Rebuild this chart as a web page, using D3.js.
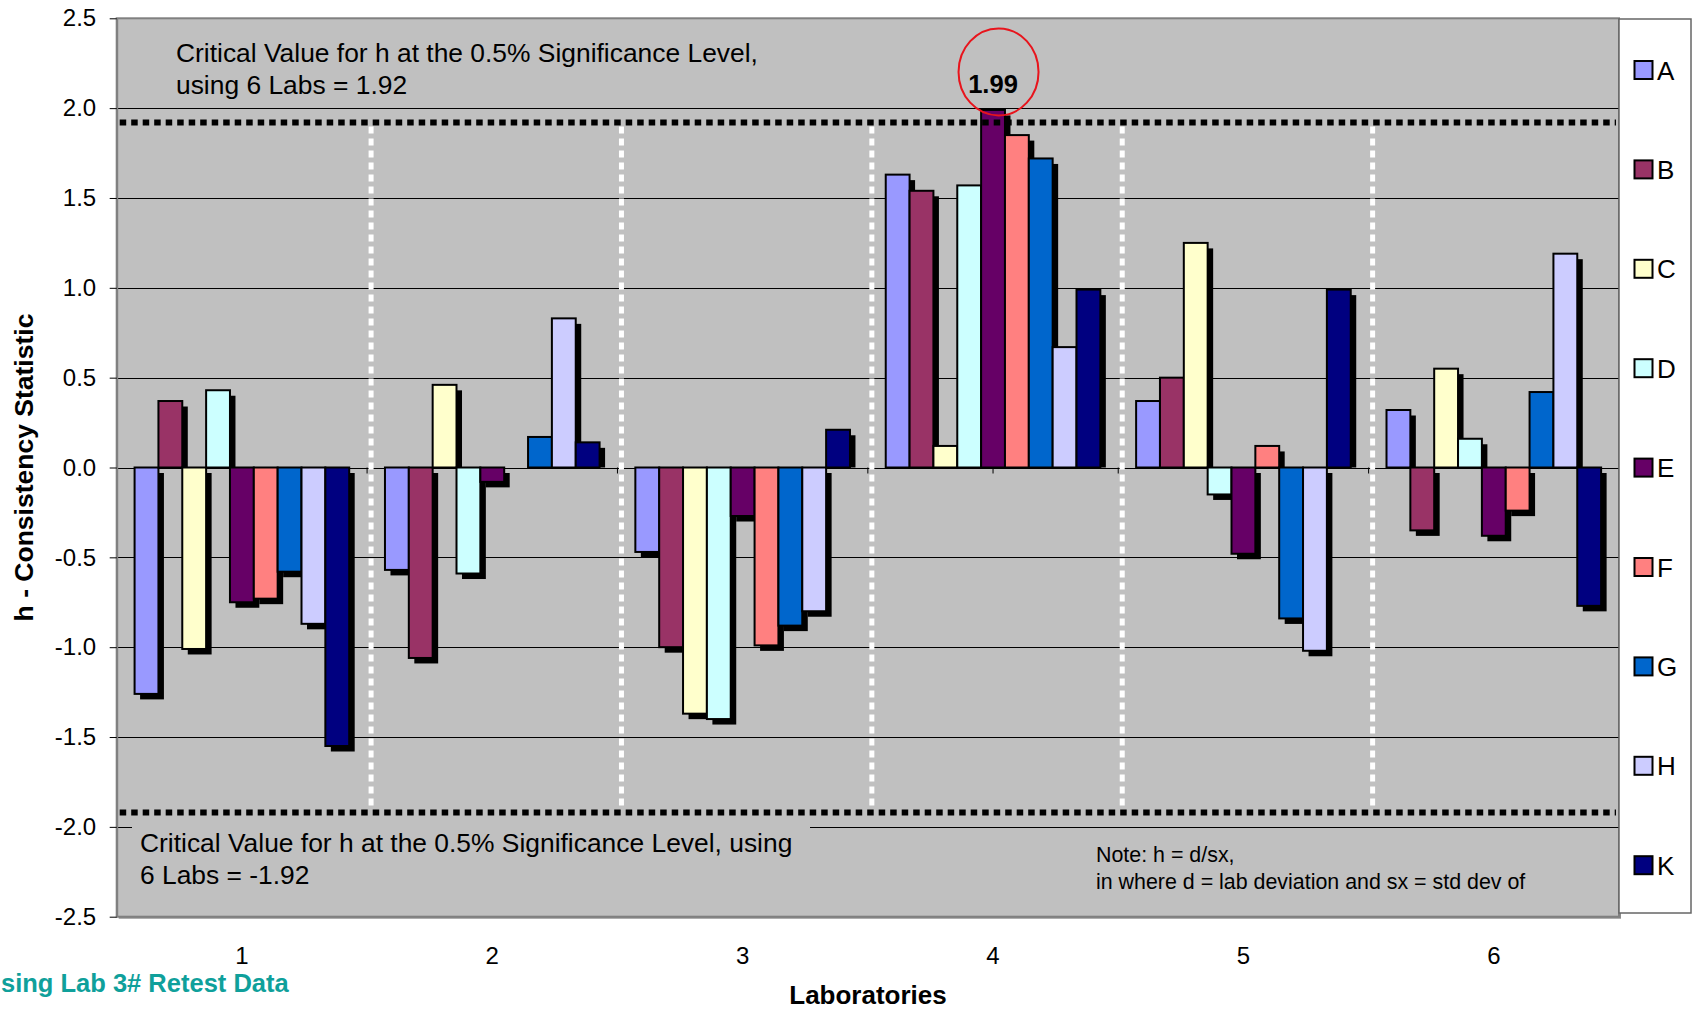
<!DOCTYPE html>
<html>
<head>
<meta charset="utf-8">
<script src="https://cdn.jsdelivr.net/npm/d3@7"></script>
<style>
  html, body { margin: 0; padding: 0; background: #ffffff; overflow: hidden; }
  svg { display: block; font-family: "Liberation Sans", Arial, sans-serif; }
</style>
</head>
<body>
<svg id="chart" width="1696" height="1011"></svg>
<script>
// ---- data -------------------------------------------------------------
const labs = ["1", "2", "3", "4", "5", "6"];
const seriesNames = ["A", "B", "C", "D", "E", "F", "G", "H", "K"];

// h statistic per lab (1..6) for each material
const hA = [-1.26, -0.57, -0.47, 1.63, 0.37, 0.32];
const hB = [0.37, -1.06, -1.00, 1.54, 0.50, -0.35];
const hC = [-1.01, 0.46, -1.37, 0.12, 1.25, 0.55];
const hD = [0.43, -0.59, -1.40, 1.57, -0.15, 0.16];
const hE = [-0.75, -0.08, -0.27, 1.99, -0.48, -0.38];
const hF = [-0.73, 0.00, -0.99, 1.85, 0.12, -0.24];
const hG = [-0.58, 0.17, -0.88, 1.72, -0.84, 0.42];
const hH = [-0.87, 0.83, -0.80, 0.67, -1.02, 1.19];
const hK = [-1.55, 0.14, 0.21, 0.99, 0.99, -0.77];
const seriesValues = [hA, hB, hC, hD, hE, hF, hG, hH, hK];

const yTicks = [-2.5, -2.0, -1.5, -1.0, -0.5, 0.0, 0.5, 1.0, 1.5, 2.0, 2.5];
const criticalUpper = 1.92;
const criticalLower = -1.92;
const highlightSeries = "E";
const highlightLab = "4";

const upperNote = ["Critical Value for h at the 0.5% Significance Level,", "using 6 Labs = 1.92"];
const lowerNote = ["Critical Value for h at the 0.5% Significance Level, using", "6 Labs = -1.92"];
const formulaNote = ["Note: h = d/sx,", "in where d = lab deviation and sx = std dev of"];
const subtitle = "sing Lab 3# Retest Data";

// ---- styles -----------------------------------------------------------
const seriesColors = ["#9999FF", "#993366", "#FFFFCC", "#CCFFFF", "#660066",
                      "#FF8080", "#0066CC", "#CCCCFF", "#000080"];
const plotBg = "#c0c0c0";

// ---- layout -----------------------------------------------------------
const plot = { left: 116.7, right: 1619, top: 18.3, bottom: 916.7 };
const svg = d3.select("#chart");

const x = d3.scaleBand().domain(labs).range([plot.left, plot.right]).padding(0);
const xs = d3.scaleBand().domain(seriesNames).range([0, x.bandwidth()])
  .paddingInner(0).paddingOuter(0.75);
const y = d3.scaleLinear().domain([-2.5, 2.5]).range([plot.bottom, plot.top]);
const color = d3.scaleOrdinal().domain(seriesNames).range(seriesColors);

// plot area with a soft drop shadow
svg.append("rect")
  .attr("x", plot.left + 2).attr("y", plot.top + 2)
  .attr("width", plot.right - plot.left).attr("height", plot.bottom - plot.top)
  .attr("fill", "#8c8c8c");
svg.append("rect")
  .attr("x", plot.left).attr("y", plot.top)
  .attr("width", plot.right - plot.left).attr("height", plot.bottom - plot.top)
  .attr("fill", plotBg).attr("stroke", "#808080").attr("stroke-width", 2);

// horizontal gridlines
svg.append("g").selectAll("line")
  .data(yTicks.filter(t => t > -2.5 && t < 2.5))
  .join("line")
  .attr("x1", plot.left).attr("x2", plot.right)
  .attr("y1", d => Math.round(y(d)) + 0.5).attr("y2", d => Math.round(y(d)) + 0.5)
  .attr("stroke", "#000").attr("stroke-width", 1);

// y axis
const yAxis = svg.append("g")
  .attr("transform", `translate(${plot.left},0)`)
  .call(d3.axisLeft(y).tickValues(yTicks).tickFormat(d => d.toFixed(1))
    .tickSize(7).tickSizeOuter(0).tickPadding(13.5));
yAxis.select(".domain").attr("stroke", "#808080").attr("stroke-width", 2);
yAxis.selectAll(".tick line").attr("stroke", "#000");
yAxis.selectAll(".tick text")
  .attr("font-size", 24).attr("fill", "#000")
  .attr("font-family", "'Liberation Sans', Arial, sans-serif");

// category ticks on the zero line
const catTicks = labs.flatMap((l, i) => [x(l) + x.bandwidth() / 2].concat(i > 0 ? [x(l)] : []));
svg.append("g").selectAll("line").data(catTicks).join("line")
  .attr("x1", d => d).attr("x2", d => d)
  .attr("y1", y(0)).attr("y2", y(0) + 6)
  .attr("stroke", "#000").attr("stroke-width", 1);

// x axis labels
const xAxis = svg.append("g")
  .attr("transform", `translate(0,${plot.bottom})`)
  .call(d3.axisBottom(x).tickSize(0).tickPadding(0));
xAxis.select(".domain").remove();
xAxis.selectAll(".tick text")
  .attr("dy", null).attr("y", 47.5)
  .attr("font-size", 24).attr("fill", "#000")
  .attr("font-family", "'Liberation Sans', Arial, sans-serif");

// lower critical-value note sits on a plot-coloured box over the -2.0 gridline
const lowerBox = svg.append("g");
lowerBox.append("rect")
  .attr("x", 132).attr("y", y(-2.0) - 8)
  .attr("width", 678).attr("height", 84)
  .attr("fill", plotBg);

// separators between laboratories
const sepOffset = 4;
svg.append("g").selectAll("line").data(labs.slice(1)).join("line")
  .attr("x1", d => x(d) + sepOffset).attr("x2", d => x(d) + sepOffset)
  .attr("y1", y(criticalUpper) + 4).attr("y2", y(criticalLower) - 2)
  .attr("stroke", "#fff").attr("stroke-width", 5)
  .attr("stroke-dasharray", "7,5");

// bars with black drop shadows, drawn series by series
const shadow = 5.5;
seriesNames.forEach((s, si) => {
  const data = labs.map((lab, i) => ({ lab, v: seriesValues[si][i] })).filter(d => d.v !== 0);
  const g = svg.append("g");
  g.selectAll("rect.shadow").data(data).join("rect").attr("class", "shadow")
    .attr("x", d => x(d.lab) + xs(s) + shadow)
    .attr("y", d => d.v > 0 ? y(d.v) + shadow : y(0) + shadow)
    .attr("width", xs.bandwidth())
    .attr("height", d => d.v > 0 ? Math.max(0, y(0) - y(d.v) - shadow) : y(d.v) - y(0))
    .attr("fill", "#000");
  g.selectAll("rect.bar").data(data).join("rect").attr("class", "bar")
    .attr("x", d => x(d.lab) + xs(s))
    .attr("y", d => Math.min(y(d.v), y(0)))
    .attr("width", xs.bandwidth())
    .attr("height", d => Math.abs(y(d.v) - y(0)))
    .attr("fill", color(s)).attr("stroke", "#000").attr("stroke-width", 2);
});

// critical value lines
svg.append("g").selectAll("line").data([criticalUpper, criticalLower]).join("line")
  .attr("x1", plot.left + 3).attr("x2", plot.right - 3)
  .attr("y1", d => y(d)).attr("y2", d => y(d))
  .attr("stroke", "#000").attr("stroke-width", 6)
  .attr("stroke-dasharray", "6.5,5");

// annotation texts
function note(lines, x0, y0, lineH, size) {
  const t = svg.append("text").attr("font-size", size).attr("fill", "#000");
  lines.forEach((ln, i) => t.append("tspan").attr("x", x0).attr("y", y0 + i * lineH).text(ln));
}
note(upperNote, 176, 61.7, 32.6, 26.4);
note(lowerNote, 140, 851.8, 32.4, 26.4);
note(formulaNote, 1096, 861.6, 27.4, 21.4);

// highlighted maximum value with circle
const hiIdx = seriesNames.indexOf(highlightSeries);
const hiVal = seriesValues[hiIdx][labs.indexOf(highlightLab)];
const hiX = x(highlightLab) + xs(highlightSeries) + xs.bandwidth() / 2;
svg.append("text")
  .attr("x", hiX).attr("y", y(hiVal) - 17)
  .attr("text-anchor", "middle").attr("font-weight", "bold").attr("font-size", 25.6)
  .text(hiVal.toFixed(2));
svg.append("ellipse")
  .attr("cx", hiX + 5.5).attr("cy", y(hiVal) - 38)
  .attr("rx", 40).attr("ry", 43.5)
  .attr("fill", "none").attr("stroke", "#e8141c").attr("stroke-width", 2);

// legend
const legend = svg.append("g");
legend.append("rect")
  .attr("x", 1619).attr("y", 19).attr("width", 72).attr("height", 894)
  .attr("fill", "#fff").attr("stroke", "#666").attr("stroke-width", 1.5);
const legendStep = 99.4;
const items = legend.selectAll("g.item").data(seriesNames).join("g").attr("class", "item")
  .attr("transform", (d, i) => `translate(1634.5,${70 + i * legendStep})`);
items.append("rect")
  .attr("x", 0).attr("y", -9).attr("width", 18).attr("height", 18)
  .attr("fill", d => color(d)).attr("stroke", "#000").attr("stroke-width", 2);
items.append("text")
  .attr("x", 22.5).attr("y", 9.5).attr("font-size", 26).attr("fill", "#000")
  .text(d => d);

// axis titles
svg.append("text")
  .attr("transform", `translate(33,${(plot.top + plot.bottom) / 2}) rotate(-90)`)
  .attr("text-anchor", "middle").attr("font-weight", "bold").attr("font-size", 26.5)
  .text("h - Consistency Statistic");
svg.append("text")
  .attr("x", 868).attr("y", 1004)
  .attr("text-anchor", "middle").attr("font-weight", "bold").attr("font-size", 26)
  .text("Laboratories");

// subtitle at the lower left corner
svg.append("text")
  .attr("x", 1).attr("y", 992)
  .attr("font-weight", "bold").attr("font-size", 25.5).attr("fill", "#0fa09b")
  .text(subtitle);
</script>
</body>
</html>
